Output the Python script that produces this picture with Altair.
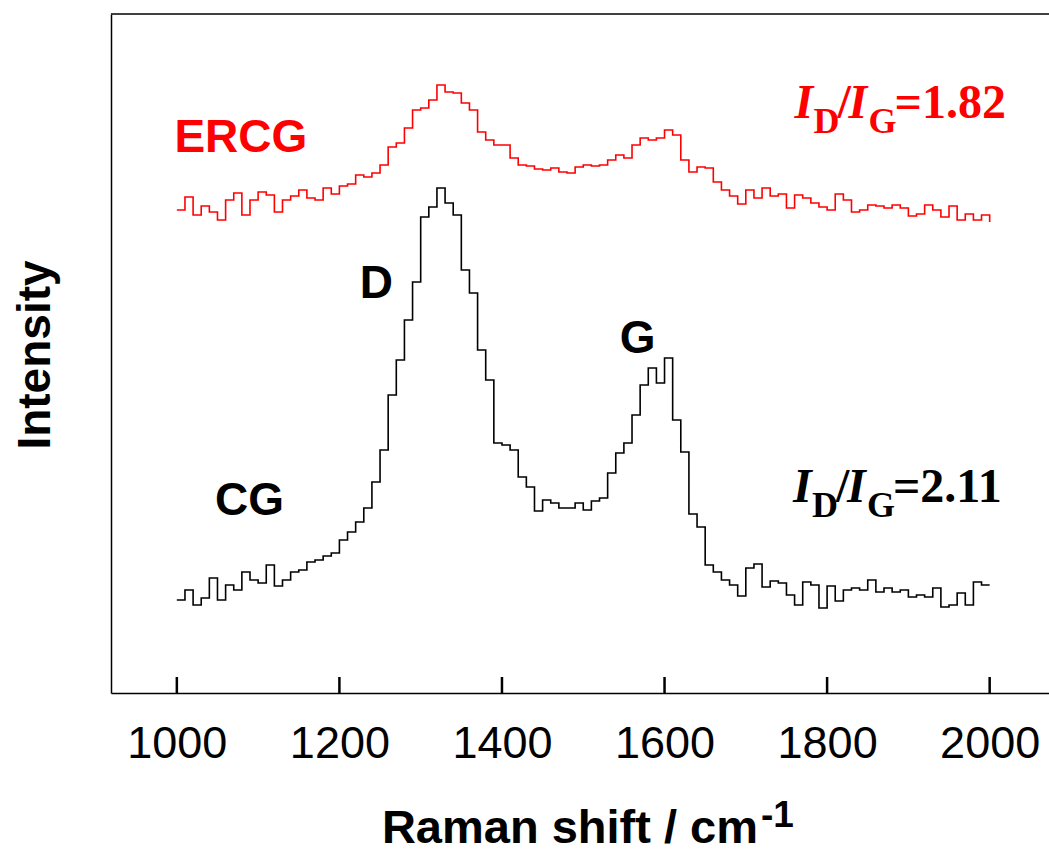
import altair as alt
import pandas as pd

# ---------------- data ----------------
wavenumber = list(range(1000, 2001, 10))

cg = [93, 103, 88, 95, 115, 93, 108, 103, 121, 113,
      110, 128, 107, 113, 121, 123, 131, 133, 137, 140,
      153, 161, 171, 185, 211, 243, 298, 333, 373, 411,
      476, 486, 505, 490, 478, 423, 400, 343, 313, 250,
      248, 243, 216, 206, 182, 193, 190, 185, 185, 190,
      183, 192, 195, 220, 240, 250, 278, 308, 325, 310,
      335, 273, 241, 179, 166, 128, 121, 113, 108, 97,
      125, 129, 106, 112, 110, 98, 88, 111, 108, 85,
      107, 92, 103, 105, 103, 113, 101, 105, 101, 103,
      96, 98, 96, 105, 86, 88, 100, 88, 111, 108,
      108]

ercg = [483, 496, 478, 487, 481, 473, 493, 500, 478, 493,
        501, 498, 481, 493, 497, 503, 495, 493, 505, 499,
        507, 509, 518, 516, 520, 528, 546, 550, 565, 583,
        585, 593, 608, 601, 600, 590, 583, 561, 553, 548,
        548, 535, 528, 527, 524, 523, 525, 521, 520, 526,
        528, 527, 528, 533, 538, 535, 548, 555, 553, 555,
        563, 558, 533, 521, 526, 525, 511, 503, 497, 489,
        503, 495, 505, 497, 499, 485, 498, 495, 490, 486,
        483, 499, 493, 481, 483, 488, 487, 485, 488, 485,
        477, 479, 488, 483, 476, 487, 473, 479, 473, 478,
        471]

tick_values = [1000, 1200, 1400, 1600, 1800, 2000]

# annotation anchors in data coordinates (cm-1, intensity)
labels_text = ["ERCG", "D", "G", "CG"]
labels_x = [997, 1225, 1545, 1047]
labels_y = [541, 395, 340, 178]
labels_color = ["#ff0000", "black", "black", "black"]

ratio_values = ["1.82", "2.11"]
ratio_x = [1760, 1758]
ratio_y = [575, 191]
ratio_color = ["#ff0000", "black"]

# ---------------- chart ----------------
W, H = 938, 679
x_scale = alt.Scale(domain=[919, 2073], nice=False, zero=False)
y_scale = alt.Scale(domain=[0, 679], nice=False, zero=False)

n = len(wavenumber)
df = pd.DataFrame({
    "w": wavenumber * 2,
    "I": cg + ercg,
    "sample": ["CG"] * n + ["ERCG"] * n,
})

lines = alt.Chart(df).mark_line(interpolate="step-after", strokeWidth=1.6).encode(
    x=alt.X("w:Q", scale=x_scale,
            axis=alt.Axis(values=tick_values, ticks=False, grid=False, title=None,
                          format="d", labelFont="Liberation Sans", labelFontSize=45,
                          labelColor="black", labelPadding=28, labelFlush=False,
                          domainColor="black", domainWidth=1.5)),
    y=alt.Y("I:Q", scale=y_scale,
            axis=alt.Axis(labels=False, ticks=False, grid=False, title=None,
                          domainColor="black", domainWidth=1.5)),
    color=alt.Color("sample:N", scale=alt.Scale(domain=["CG", "ERCG"], range=["black", "#ff0000"]),
                    legend=None),
    detail="sample:N",
)

ticks = alt.Chart(pd.DataFrame({"t": tick_values})).mark_rule(
    color="black", strokeWidth=2.5
).encode(
    x=alt.X("t:Q", scale=x_scale),
    y=alt.value(H),
    y2=alt.value(H - 16),
)

top_border = alt.Chart(pd.DataFrame({"a": [0]})).mark_rule(color="black", strokeWidth=1.5).encode(
    x=alt.value(0), x2=alt.value(W), y=alt.value(0)
)

# sample / peak labels
lab_layers = []
for t, lx, ly, c in zip(labels_text, labels_x, labels_y, labels_color):
    lab_layers.append(
        alt.Chart(pd.DataFrame({"x": [lx], "y": [ly], "t": [t]})).mark_text(
            font="Liberation Sans", fontWeight="bold", fontSize=46, color=c,
            align="left", baseline="alphabetic"
        ).encode(x=alt.X("x:Q", scale=x_scale), y=alt.Y("y:Q", scale=y_scale), text="t:N")
    )

# I_D/I_G ratio labels built from pieces
def piece(text, x, y, dx, dy, size, style, color):
    return alt.Chart(pd.DataFrame({"x": [x], "y": [y], "t": [text]})).mark_text(
        font="Liberation Serif", fontWeight="bold", fontStyle=style, fontSize=size,
        color=color, align="left", baseline="alphabetic", dx=dx, dy=dy
    ).encode(x=alt.X("x:Q", scale=x_scale), y=alt.Y("y:Q", scale=y_scale), text="t:N")

ratio_layers = []
for v, rx, ry, c in zip(ratio_values, ratio_x, ratio_y, ratio_color):
    ratio_layers += [
        piece("I", rx, ry, 0, 0, 48, "italic", c),
        piece("D", rx, ry, 19, 15, 36, "normal", c),
        piece("/", rx, ry, 43, 0, 48, "normal", c),
        piece("I", rx, ry, 54, 0, 48, "italic", c),
        piece("G", rx, ry, 74, 15, 36, "normal", c),
        piece("=" + v, rx, ry, 100, 0, 48, "normal", c),
    ]

# axis titles as text
x_title = alt.Chart(pd.DataFrame({"t": ["Raman shift / cm"]})).mark_text(
    font="Liberation Sans", fontWeight="bold", fontSize=47, color="black",
    align="right", baseline="alphabetic"
).encode(text="t:N", x=alt.value(647), y=alt.value(829))

x_title_sup = alt.Chart(pd.DataFrame({"t": ["-1"]})).mark_text(
    font="Liberation Sans", fontWeight="bold", fontSize=37, color="black",
    align="left", baseline="alphabetic"
).encode(text="t:N", x=alt.value(650), y=alt.value(813))

y_title = alt.Chart(pd.DataFrame({"t": ["Intensity"]})).mark_text(
    font="Liberation Sans", fontWeight="bold", fontSize=46, color="black",
    align="center", baseline="alphabetic", angle=270
).encode(text="t:N", x=alt.value(-61), y=alt.value(341))

chart = alt.layer(
    lines, ticks, top_border, *lab_layers, *ratio_layers, x_title, x_title_sup, y_title
).properties(
    width=W, height=H,
    autosize=alt.AutoSizeParams(type="none"),
    padding={"left": 111, "top": 14, "right": 0, "bottom": 159},
    background="white",
).configure_view(stroke=None)

chart.save("out.html", embed_options={"renderer": "svg", "actions": False})
